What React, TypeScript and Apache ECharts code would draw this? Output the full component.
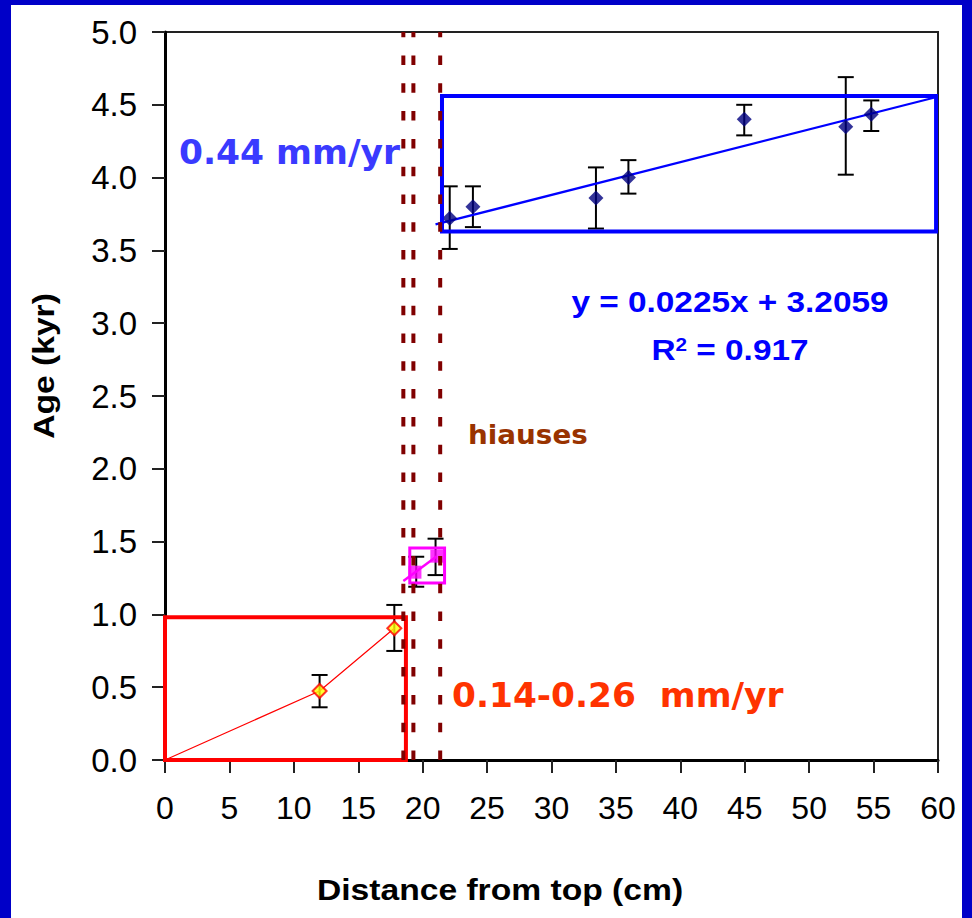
import React, { useEffect, useRef } from "react";
import * as echarts from "echarts";

// ---- data ----
const xTickMin = 0;
const xTickMax = 60;
const xTickStep = 5;
const yTickMin = 0;
const yTickMax = 5;
const yTickStep = 0.5;

// upper section (blue diamonds)
const bluePoints = [
  [22.1, 3.72],
  [23.9, 3.8],
  [33.45, 3.86],
  [35.97, 4.0],
  [44.96, 4.4],
  [52.84, 4.35],
  [54.82, 4.435],
];
const blueErrors = [
  [22.1, 3.51, 3.94],
  [23.9, 3.66, 3.94],
  [33.45, 3.65, 4.07],
  [35.97, 3.89, 4.12],
  [44.96, 4.29, 4.5],
  [52.84, 4.02, 4.69],
  [54.82, 4.32, 4.53],
];
const trendSlope = 0.0225;
const trendIntercept = 3.2059;
const trendFrom = 21.0;
const trendTo = 59.9;

// lower section (yellow diamonds)
const redLine = [
  [0, 0],
  [12.0, 0.474],
  [17.8, 0.905],
];
const redPoints = [
  [12.0, 0.474],
  [17.8, 0.905],
];
const redErrors = [
  [12.0, 0.362, 0.584],
  [17.8, 0.749, 1.065],
];

// middle (magenta squares)
const magentaPoints = [
  [19.4, 1.29],
  [21.1, 1.4],
];
const magentaErrors = [
  [19.5, 1.19, 1.396],
  [21.0, 1.27, 1.52],
];
const magentaTrend = [
  [18.5, 1.23],
  [21.1, 1.4],
];

// hiatus positions
const hiatusX = [18.5, 19.28, 21.36];

// boxes [x1, y1, x2, y2]
const redBox = [0, 0, 18.7, 0.98];
const magentaBox = [19.0, 1.216, 21.7, 1.456];
const blueBox = [21.5, 3.63, 59.85, 4.56];

const equationText = "y = 0.0225x + 3.2059";
const r2Main = "R";
const r2Sup = "2";
const r2Rest = " = 0.917";
const upperRateText = "0.44 mm/yr";
const lowerRateText = "0.14-0.26  mm/yr";
const hiatusText = "hiauses";
const xAxisTitle = "Distance from top (cm)";
const yAxisTitle = "Age (kyr)";

const ARIAL = "'Liberation Sans', Arial, sans-serif";
const VERDANA = "'DejaVu Sans', Verdana, sans-serif";

function errorBarSeries(data: number[][]) {
  return {
    type: "custom",
    data,
    encode: { x: 0, y: [1, 2] },
    z: 3,
    renderItem: (params: any, api: any) => {
      const x = api.value(0);
      const lo = api.coord([x, api.value(1)]);
      const hi = api.coord([x, api.value(2)]);
      const w = 8;
      const st = { stroke: "#000", lineWidth: 2 };
      return {
        type: "group",
        children: [
          { type: "line", shape: { x1: lo[0], y1: lo[1], x2: hi[0], y2: hi[1] }, style: st },
          { type: "line", shape: { x1: lo[0] - w, y1: lo[1], x2: lo[0] + w, y2: lo[1] }, style: st },
          { type: "line", shape: { x1: hi[0] - w, y1: hi[1], x2: hi[0] + w, y2: hi[1] }, style: st },
        ],
      };
    },
  };
}

function boxSeries(box: number[], color: string, width: number) {
  return {
    type: "custom",
    data: [box],
    encode: { x: [0, 2], y: [1, 3] },
    clip: false,
    z: 6,
    renderItem: (params: any, api: any) => {
      const p1 = api.coord([api.value(0), api.value(3)]);
      const p2 = api.coord([api.value(2), api.value(1)]);
      return {
        type: "rect",
        shape: { x: p1[0], y: p1[1], width: p2[0] - p1[0], height: p2[1] - p1[1] },
        style: { fill: "none", stroke: color, lineWidth: width },
      };
    },
  };
}

function textEl(
  text: string,
  x: number,
  y: number,
  size: number,
  family: string,
  fill: string,
  align: string,
  scaleX: number,
  rotation = 0
) {
  return {
    type: "text",
    x,
    y,
    scaleX,
    rotation,
    z: 50,
    style: {
      text,
      fontSize: size,
      fontWeight: "bold",
      fontFamily: family,
      fill,
      align,
      verticalAlign: "middle",
      textAlign: align,
      textVerticalAlign: "middle",
    },
  };
}

export default function App() {
  const ref = useRef<HTMLDivElement>(null);

  useEffect(() => {
    document.body.style.margin = "0";
    if (!ref.current) return;
    const chart = echarts.init(ref.current, undefined, { renderer: "svg" });

    const trendData = [
      [trendFrom, trendSlope * trendFrom + trendIntercept],
      [trendTo, trendSlope * trendTo + trendIntercept],
    ];

    const option: any = {
      animation: false,
      backgroundColor: "#ffffff",
      grid: {
        left: 165,
        right: 34,
        top: 32,
        bottom: 158,
        show: true,
        borderColor: "#222",
        borderWidth: 2,
        backgroundColor: "transparent",
      },
      xAxis: {
        type: "value",
        min: xTickMin,
        max: xTickMax,
        interval: xTickStep,
        axisLine: { show: true, onZero: false, lineStyle: { color: "#000", width: 3 } },
        axisTick: { show: true, length: 13, lineStyle: { color: "#222", width: 2 } },
        axisLabel: { color: "#000", fontSize: 32, fontFamily: ARIAL, margin: 32 },
        splitLine: { show: false },
      },
      yAxis: {
        type: "value",
        min: yTickMin,
        max: yTickMax,
        interval: yTickStep,
        axisLine: { show: true, onZero: false, lineStyle: { color: "#000", width: 3 } },
        axisTick: { show: true, length: 13, lineStyle: { color: "#222", width: 2 } },
        axisLabel: {
          color: "#000",
          fontSize: 33,
          fontFamily: ARIAL,
          margin: 28,
          formatter: (v: number) => v.toFixed(1),
        },
        splitLine: { show: false },
      },
      series: [
        // hiatus dashed lines
        {
          type: "custom",
          data: hiatusX.map((v) => [v, yTickMin, yTickMax]),
          encode: { x: 0, y: [1, 2] },
          z: 7,
          renderItem: (params: any, api: any) => {
            const b = api.coord([api.value(0), api.value(1)]);
            const t = api.coord([api.value(0), api.value(2)]);
            return {
              type: "line",
              shape: { x1: b[0], y1: b[1], x2: t[0], y2: t[1] },
              style: { stroke: "#800000", lineWidth: 4, lineDash: [9.5, 18.3] },
            };
          },
        },
        errorBarSeries(blueErrors),
        errorBarSeries(redErrors),
        errorBarSeries(magentaErrors),
        {
          type: "line",
          data: redLine,
          showSymbol: false,
          symbol: "none",
          lineStyle: { color: "#ff0000", width: 1.2 },
          z: 4,
        },
        {
          type: "scatter",
          data: redPoints,
          symbol: "diamond",
          symbolSize: 14,
          itemStyle: { color: "#ffff00", borderColor: "#ff0000", borderWidth: 2 },
          z: 5,
        },
        {
          type: "line",
          data: magentaTrend,
          showSymbol: false,
          symbol: "none",
          lineStyle: { color: "#ff00ff", width: 2.5 },
          z: 4,
        },
        {
          type: "scatter",
          data: magentaPoints,
          symbol: "rect",
          symbolSize: 13,
          itemStyle: { color: "#ff00ff" },
          z: 5,
        },
        {
          type: "scatter",
          data: bluePoints,
          symbol: "diamond",
          symbolSize: 15,
          itemStyle: { color: "#000080" },
          z: 5,
        },
        {
          type: "line",
          data: trendData,
          showSymbol: false,
          symbol: "none",
          lineStyle: { color: "#0000ff", width: 2.2 },
          z: 5,
        },
        boxSeries(redBox, "#ff0000", 4),
        boxSeries(magentaBox, "#ff00ff", 3),
        boxSeries(blueBox, "#0000ff", 4),
      ],
      graphic: [
        // blue frame
        { type: "rect", left: 0, top: 0, shape: { width: 11, height: 918 }, style: { fill: "#0000c8" }, z: 100 },
        { type: "rect", left: 962, top: 0, shape: { width: 10, height: 918 }, style: { fill: "#0000c8" }, z: 100 },
        { type: "rect", left: 0, top: 0, shape: { width: 972, height: 5 }, style: { fill: "#0000c8" }, z: 100 },
        // axis titles
        textEl(xAxisTitle, 500, 890, 29, ARIAL, "#000", "center", 1.16),
        textEl(yAxisTitle, 44, 366, 29, ARIAL, "#000", "center", 1.16, Math.PI / 2),
        // regression equation
        textEl(equationText, 730, 302, 29, ARIAL, "#0000ff", "center", 1.15),
        {
          type: "text",
          x: 730,
          y: 350,
          scaleX: 1.15,
          z: 50,
          style: {
            text: "{a|" + r2Main + "}{s|" + r2Sup + "}{a|" + r2Rest + "}",
            align: "center",
            verticalAlign: "middle",
            textAlign: "center",
            textVerticalAlign: "middle",
            fill: "#0000ff",
            rich: {
              a: { fontSize: 29, fontWeight: "bold", fontFamily: ARIAL, fill: "#0000ff", color: "#0000ff" },
              s: {
                fontSize: 18,
                fontWeight: "bold",
                fontFamily: ARIAL,
                fill: "#0000ff",
                color: "#0000ff",
                verticalAlign: "top",
              },
            },
          },
        },
        // annotations
        textEl(upperRateText, 179, 153, 33, VERDANA, "#3a3aff", "left", 1.045),
        textEl(lowerRateText, 452, 696, 33, VERDANA, "#ff3300", "left", 1.042),
        textEl(hiatusText, 468, 435, 27, VERDANA, "#993300", "left", 1.03),
      ],
    };

    chart.setOption(option);
    return () => chart.dispose();
  }, []);

  return <div ref={ref} style={{ width: 972, height: 918 }} />;
}
